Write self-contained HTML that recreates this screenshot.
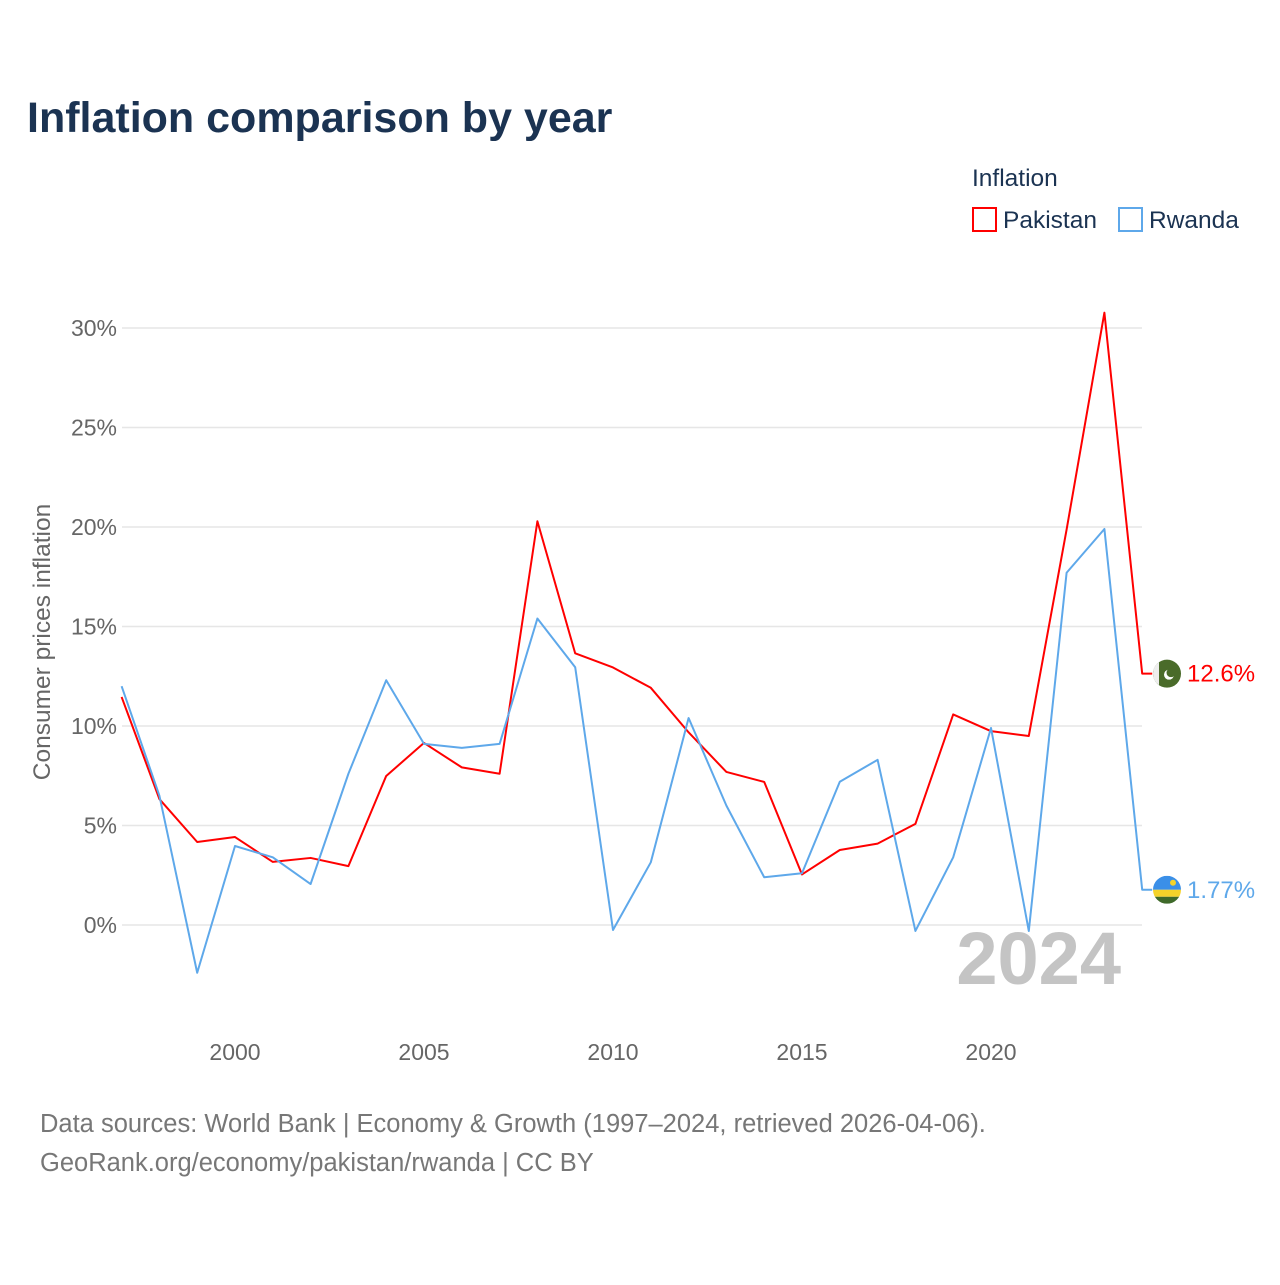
<!DOCTYPE html>
<html><head><meta charset="utf-8"><style>
body{margin:0;background:#fff;width:1280px;height:1280px;overflow:hidden;font-family:"Liberation Sans",sans-serif}
</style></head><body>
<svg id="chart" width="1280" height="1280" xmlns="http://www.w3.org/2000/svg" font-family="Liberation Sans, sans-serif">
<text x="27" y="132" font-size="43" font-weight="bold" fill="#1b3352">Inflation comparison by year</text>
<text x="972" y="186" font-size="24.5" fill="#1b3352">Inflation</text>
<g><rect x="973" y="208" width="23" height="23" fill="none" stroke="#ff0000" stroke-width="2"/><text x="1003" y="228" font-size="24.5" fill="#1b3352">Pakistan</text></g>
<g><rect x="1119" y="208" width="23" height="23" fill="none" stroke="#5ea8ea" stroke-width="2"/><text x="1149" y="228" font-size="24.5" fill="#1b3352">Rwanda</text></g>
<text transform="translate(50,642) rotate(-90)" text-anchor="middle" font-size="24.5" fill="#666">Consumer prices inflation</text>
<text x="1121" y="984" text-anchor="end" font-size="74" font-weight="bold" fill="#c4c4c4">2024</text>
<g id="grid"></g><g id="xt"></g><g id="lines"></g>
<text x="40" y="1132" font-size="25.5" fill="#777">Data sources: World Bank | Economy &amp; Growth (1997–2024, retrieved 2026-04-06).</text>
<text x="40" y="1171" font-size="25.5" fill="#777">GeoRank.org/economy/pakistan/rwanda | CC BY</text>
</svg>
<script>
const years=[1997,1998,1999,2000,2001,2002,2003,2004,2005,2006,2007,2008,2009,2010,2011,2012,2013,2014,2015,2016,2017,2018,2019,2020,2021,2022,2023,2024];
const pakistan=[11.46,6.33,4.17,4.42,3.17,3.37,2.96,7.49,9.15,7.92,7.60,20.29,13.65,12.94,11.92,9.68,7.69,7.19,2.54,3.77,4.09,5.08,10.58,9.74,9.50,19.87,30.77,12.63];
const rwanda=[12.0,6.5,-2.4,3.97,3.4,2.06,7.6,12.3,9.1,8.9,9.1,15.4,12.95,-0.25,3.15,10.4,6.0,2.4,2.6,7.2,8.3,-0.3,3.4,9.9,-0.3,17.7,19.9,1.77];
const yTicks=[0,5,10,15,20,25,30];
const xTicks=[2000,2005,2010,2015,2020];
const NS="http://www.w3.org/2000/svg";
const x=v=>235+(v-2000)*37.8;
const y=v=>925-v*19.9;
function mk(t,a,p){const e=document.createElementNS(NS,t);for(const k in a)e.setAttribute(k,a[k]);p.appendChild(e);return e;}
const grid=document.getElementById('grid'),xt=document.getElementById('xt'),lines=document.getElementById('lines');
yTicks.forEach(t=>{
 const l=mk('line',{x1:122,x2:1142,y1:y(t),y2:y(t),stroke:'#e6e6e6','stroke-width':1.5},grid);
 
 
 const tx=mk('text',{x:117,y:y(t)+8,'text-anchor':'end','font-size':23,fill:'#666'},grid);tx.textContent=t+'%';
 
 
});
xTicks.forEach(t=>{
 const tx=mk('text',{x:x(t),y:1060,'text-anchor':'middle','font-size':23,fill:'#666'},xt);tx.textContent=t;
 
 
});
function series(vals,color,name,label){
 const pts=vals.map((v,i)=>x(years[i])+','+y(v)).join(' ');
 const last=vals[vals.length-1],lx=x(years[years.length-1]),ly=y(last);
 const p=mk('polyline',{points:pts+' '+(lx+10)+','+ly,fill:'none',stroke:color,'stroke-width':2,'stroke-linejoin':'round'},lines);
 
 
 const t=mk('text',{x:1187,y:ly+8,'font-size':24,fill:color},lines);t.textContent=label;
 
 
 return ly;
}
const py=series(pakistan,'#ff0000','pakistan','12.6%');
const ry=series(rwanda,'#5ea8ea','rwanda','1.77%');
const fp=mk('g',{},lines);


mk('circle',{cx:1167,cy:py,r:14,fill:'#4a6b2a'},fp);
mk('path',{d:`M1153,${py} a14,14 0 0 1 6,-11.5 v23 a14,14 0 0 1 -6,-11.5z`,fill:'#eee'},fp);
mk('circle',{cx:1169,cy:py+1,r:5,fill:'#fff'},fp);
mk('circle',{cx:1171,cy:py-1,r:4.5,fill:'#4a6b2a'},fp);
const fr=mk('g',{},lines);


mk('clipPath',{id:'rc'},fr);mk('circle',{cx:1167,cy:ry,r:14},document.getElementById('rc'));
const g2=mk('g',{'clip-path':'url(#rc)'},fr);
mk('rect',{x:1153,y:ry-14,width:28,height:14,fill:'#3a8fe8'},g2);
mk('rect',{x:1153,y:ry,width:28,height:7,fill:'#f5d32a'},g2);
mk('rect',{x:1153,y:ry+7,width:28,height:7,fill:'#3f6a2a'},g2);
mk('circle',{cx:1173,cy:ry-7,r:3,fill:'#f5d32a'},g2);
</script>
</body></html>
